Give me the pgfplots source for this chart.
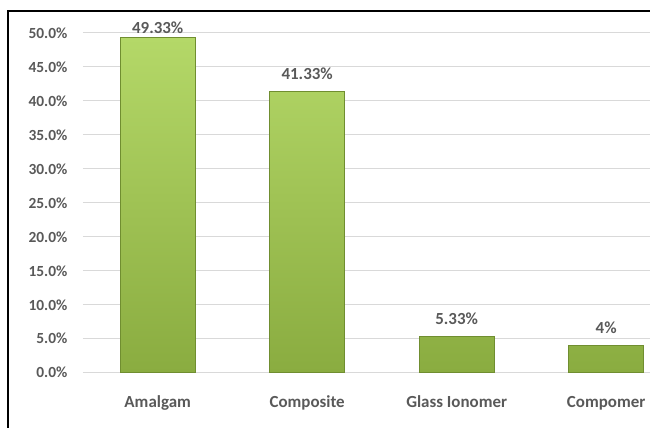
\documentclass[border=0pt]{standalone}
\usepackage{pgfplots}
\pgfplotsset{compat=1.18}
\usepackage{fontspec}
\setmainfont{Carlito}
\definecolor{txt}{RGB}{89,89,89}
\definecolor{gridc}{RGB}{217,217,217}
\definecolor{bartop}{RGB}{180,216,104}
\definecolor{barbot}{RGB}{138,172,64}
\definecolor{baredge}{RGB}{112,142,48}
\begin{document}
\begin{tikzpicture}
\begin{axis}[
  at={(0,0)}, anchor=south west,
  scale only axis,
  width=567bp, height=340bp,
  xmin=-0.5, xmax=3.29,
  ymin=0, ymax=50,
  ytick={0,5,...,50},
  xtick={0,1,2,3},
  xticklabels={Amalgam,Composite,Glass Ionomer,Compomer},
  axis line style={draw=none},
  major tick length=0pt,
  ymajorgrids,
  grid style={gridc, line width=1bp},
  yticklabel={\pgfmathprintnumber[fixed,fixed zerofill,precision=1]{\tick}\%},
  /pgf/number format/assume math mode=true,
  yticklabel style={font=\fontsize{15.5}{16}\selectfont\bfseries, text=txt, anchor=east, xshift=-12bp},
  xticklabel style={font=\fontsize{17}{18}\selectfont\bfseries, text=txt, anchor=base, yshift=-35bp},
  ybar, bar width=75bp,
  clip=false,
  nodes near coords,
  point meta=explicit symbolic,
  every node near coord/.append style={font=\fontsize{17}{18}\selectfont\bfseries, text=txt, anchor=base, yshift=12bp, inner sep=0pt},
]
\addplot[bar shift=0pt, draw=baredge, line width=0.8bp, top color=bartop, bottom color=barbot,
  coordinate style/.condition={\coordindex==0}{yshift=-7.5bp}]
  coordinates {(0,49.33) [49.33\%] (1,41.33) [41.33\%] (2,5.33) [5.33\%] (3,4) [4\%]};
\end{axis}
\useasboundingbox (-83bp,-55bp) rectangle (567bp,373bp);
\draw[black, line width=1.8bp] (-75bp,-60bp) -- (-75bp,362bp) -- (575bp,362bp);
\end{tikzpicture}
\end{document}
